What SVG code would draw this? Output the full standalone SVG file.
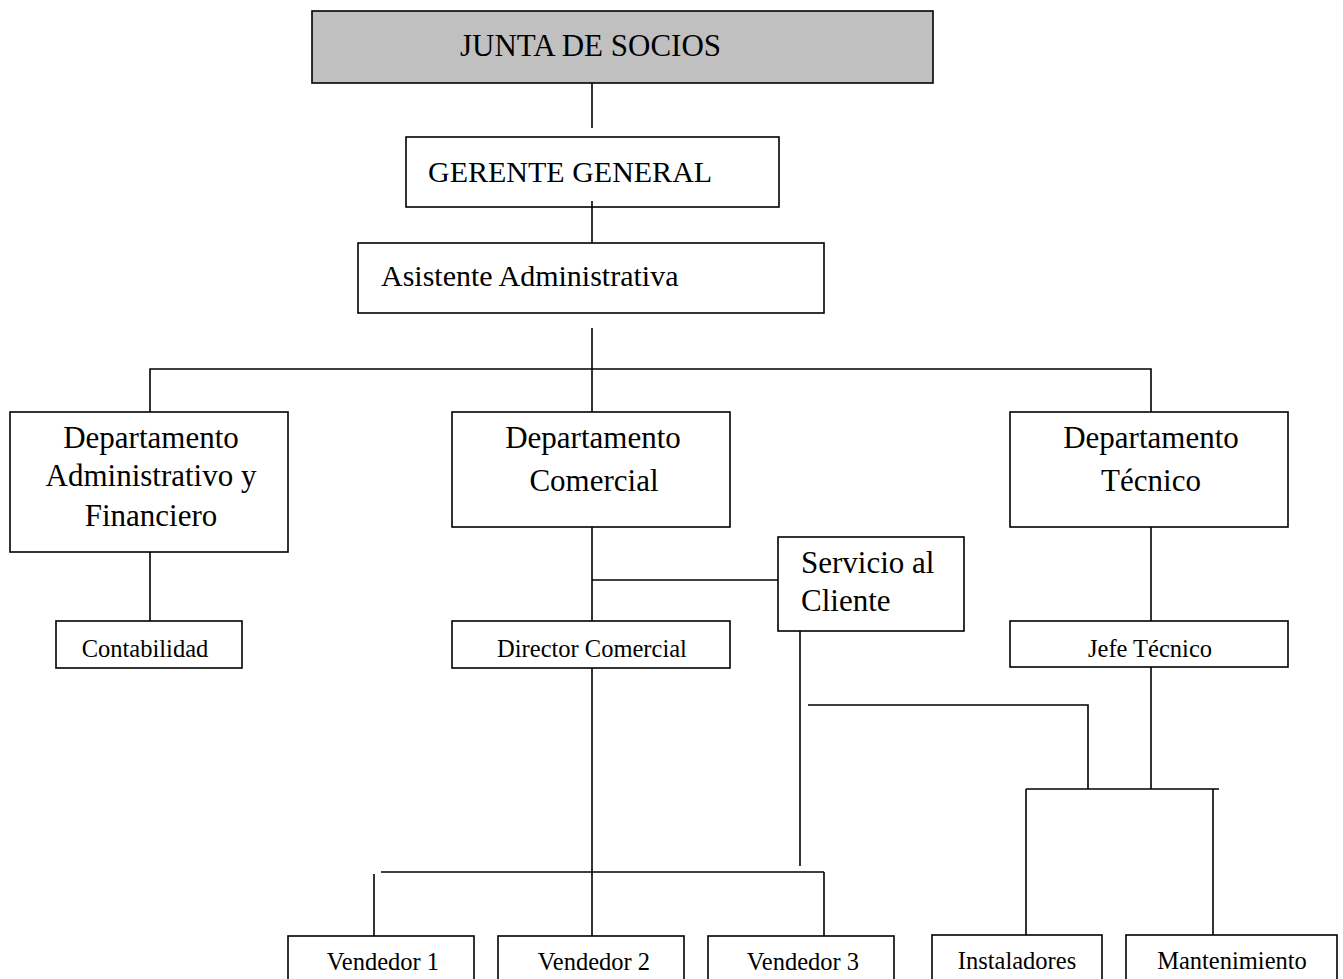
<svg xmlns="http://www.w3.org/2000/svg" width="1343" height="979" viewBox="0 0 1343 979">
<style>
.box{fill:#fff;stroke:#000;stroke-width:1.6}
.gray{fill:#c0c0c0}
.t{font-family:"Liberation Serif","Times New Roman",serif;font-size:31px;fill:#000}
.s{font-family:"Liberation Serif","Times New Roman",serif;font-size:24.5px;fill:#000}
.c{text-anchor:middle}
.ln{stroke:#000;stroke-width:1.6;fill:none}
</style>
<rect width="1343" height="979" fill="#fff"/>
<g id="connectors">
<line class="ln" x1="592" y1="83" x2="592" y2="128"/>
<line class="ln" x1="592" y1="201" x2="592" y2="248"/>
<line class="ln" x1="592" y1="328" x2="592" y2="412"/>
<polyline class="ln" points="150,412 150,369 1151,369 1151,412"/>
<line class="ln" x1="150" y1="552" x2="150" y2="621"/>
<line class="ln" x1="592" y1="527" x2="592" y2="621"/>
<line class="ln" x1="592" y1="580" x2="778" y2="580"/>
<line class="ln" x1="1151" y1="527" x2="1151" y2="621"/>
<line class="ln" x1="592" y1="668" x2="592" y2="936"/>
<line class="ln" x1="800" y1="631" x2="800" y2="866"/>
<line class="ln" x1="381" y1="872" x2="824" y2="872"/>
<line class="ln" x1="824" y1="872" x2="824" y2="936"/>
<line class="ln" x1="374" y1="874" x2="374" y2="942"/>
<polyline class="ln" points="808,705 1088,705 1088,789"/>
<line class="ln" x1="1151" y1="667" x2="1151" y2="789"/>
<line class="ln" x1="1026" y1="789" x2="1219" y2="789"/>
<line class="ln" x1="1026" y1="789" x2="1026" y2="935"/>
<line class="ln" x1="1213" y1="789" x2="1213" y2="935"/>
</g>
<g id="junta">
<rect class="box gray" x="312" y="11" width="621" height="72"/>
<text class="t" x="460" y="56">JUNTA DE SOCIOS</text>
</g>
<g id="gerente">
<rect class="box" x="406" y="137" width="373" height="70" fill="none" style="fill:none"/>
<text class="t" x="428" y="182" style="font-size:30px">GERENTE GENERAL</text>
</g>
<g id="asistente">
<rect class="box" x="358" y="243" width="466" height="70"/>
<text class="t" x="381" y="286" style="font-size:30px">Asistente Administrativa</text>
</g>
<g id="dept-admin">
<rect class="box" x="10" y="412" width="278" height="140"/>
<text class="t c" x="151" y="448">Departamento</text>
<text class="t c" x="151" y="486">Administrativo y</text>
<text class="t c" x="151" y="526">Financiero</text>
</g>
<g id="dept-comercial">
<rect class="box" x="452" y="412" width="278" height="115"/>
<text class="t c" x="593" y="448">Departamento</text>
<text class="t c" x="594" y="491">Comercial</text>
</g>
<g id="dept-tecnico">
<rect class="box" x="1010" y="412" width="278" height="115"/>
<text class="t c" x="1151" y="448">Departamento</text>
<text class="t c" x="1151" y="491">Técnico</text>
</g>
<g id="servicio">
<rect class="box" x="778" y="537" width="186" height="94"/>
<text class="t" x="801" y="573">Servicio al</text>
<text class="t" x="801" y="611">Cliente</text>
</g>
<g id="contabilidad">
<rect class="box" x="56" y="621" width="186" height="47"/>
<text class="s c" x="145" y="657">Contabilidad</text>
</g>
<g id="director">
<rect class="box" x="452" y="621" width="278" height="47"/>
<text class="s c" x="592" y="657">Director Comercial</text>
</g>
<g id="jefe">
<rect class="box" x="1010" y="621" width="278" height="46"/>
<text class="s c" x="1150" y="657">Jefe Técnico</text>
</g>
<g id="vendedor1">
<rect class="box" x="288" y="936" width="186" height="60"/>
<text class="s c" x="383" y="970">Vendedor 1</text>
</g>
<g id="vendedor2">
<rect class="box" x="498" y="936" width="186" height="60"/>
<text class="s c" x="594" y="970">Vendedor 2</text>
</g>
<g id="vendedor3">
<rect class="box" x="708" y="936" width="186" height="60"/>
<text class="s c" x="803" y="970">Vendedor 3</text>
</g>
<g id="instaladores">
<rect class="box" x="932" y="935" width="170" height="60"/>
<text class="s c" x="1017" y="969">Instaladores</text>
</g>
<g id="mantenimiento">
<rect class="box" x="1126" y="935" width="211" height="60"/>
<text class="s c" x="1232" y="969">Mantenimiento</text>
</g>
</svg>
